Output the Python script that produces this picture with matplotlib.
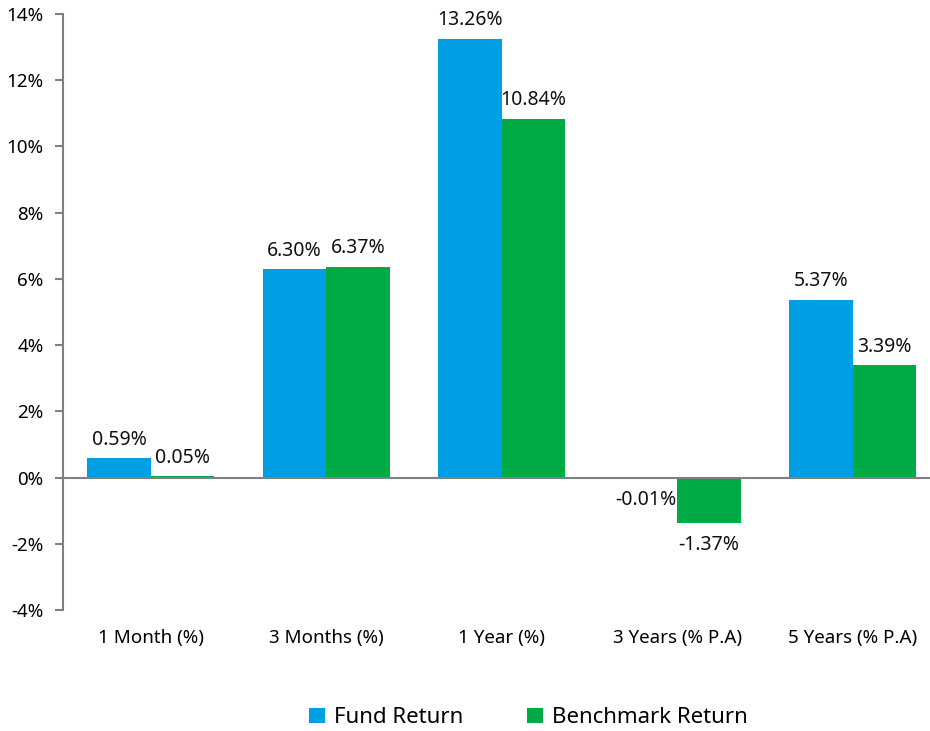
import matplotlib.pyplot as plt
import numpy as np

categories = ["1 Month (%)", "3 Months (%)", "1 Year (%)", "3 Years (% P.A)", "5 Years (% P.A)"]
fund_return = [0.59, 6.30, 13.26, -0.01, 5.37]
benchmark_return = [0.05, 6.37, 10.84, -1.37, 3.39]
series_names = ["Fund Return", "Benchmark Return"]

blue = "#009FE3"
green = "#00AA44"
grey = "#808080"

plt.rcParams['font.family'] = ['Noto Sans', 'DejaVu Sans']

fig = plt.figure(figsize=(9.3, 7.31), dpi=100)
ax = fig.add_axes([0.0677, 0.1655, 0.9435, 0.8153])

x = np.arange(len(categories))
w = 0.362
b1 = ax.bar(x - w / 2, fund_return, w, color=blue, label=series_names[0])
b2 = ax.bar(x + w / 2, benchmark_return, w, color=green, label=series_names[1])

for bars, vals in ((b1, fund_return), (b2, benchmark_return)):
    for bar, v in zip(bars, vals):
        cx = bar.get_x() + bar.get_width() / 2
        if v >= 0:
            ax.annotate(f"{v:.2f}%", (cx, v), xytext=(0, 6), textcoords="offset points",
                        ha="center", va="bottom", fontsize=14, color="#111111")
        else:
            ax.annotate(f"{v:.2f}%", (cx, v), xytext=(0, -9), textcoords="offset points",
                        ha="center", va="top", fontsize=14, color="#111111")

ax.axhline(0, color=grey, linewidth=1.5, zorder=3)

ax.set_xlim(-0.5, len(categories) - 0.5)
ax.set_ylim(-4, 14)
ax.set_yticks(np.arange(-4, 15, 2))
ax.set_yticklabels([f"{t}%" for t in range(-4, 15, 2)])
ax.set_xticks(x)
ax.set_xticklabels(categories)

for s in ["top", "right", "bottom"]:
    ax.spines[s].set_visible(False)
ax.spines["left"].set_color(grey)
ax.spines["left"].set_linewidth(1.5)
ax.tick_params(axis="y", length=6, width=1.5, color=grey, labelsize=13.5, pad=8)
ax.tick_params(axis="x", length=0, labelsize=13.5, pad=14)

fig.legend(handles=[b1, b2], loc="center", bbox_to_anchor=(0.568, 0.018),
           ncol=2, frameon=False, fontsize=16, handlelength=0.7, handleheight=0.7,
           handletextpad=0.4, columnspacing=2.9)

fig.savefig("out.png", dpi=100)
